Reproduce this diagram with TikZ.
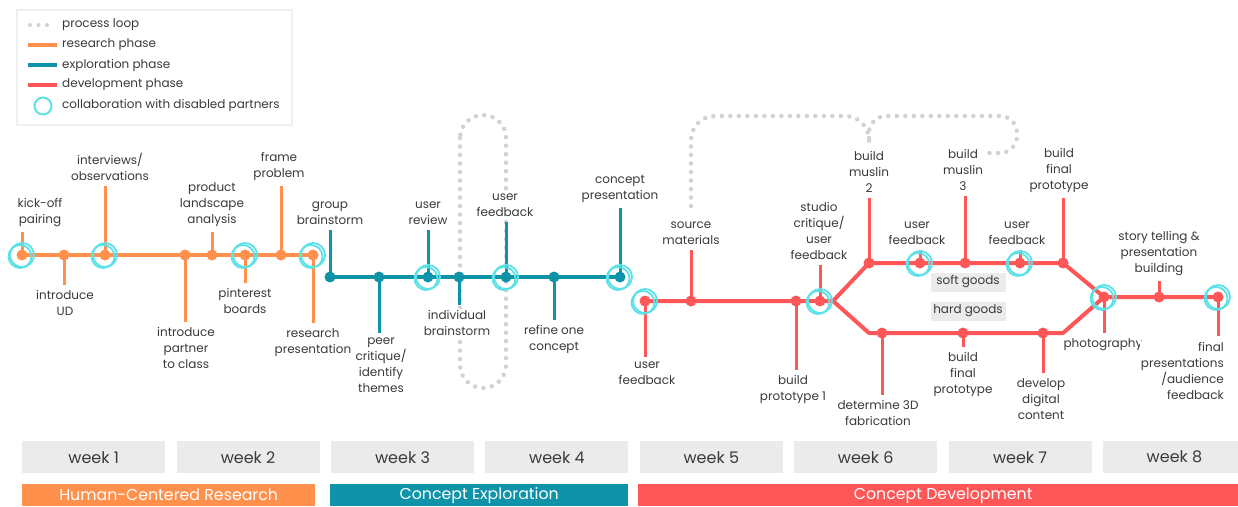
\documentclass[tikz,border=0pt]{standalone}
\usepackage{fontspec}
\setmainfont{Poppins}
\usetikzlibrary{calc}
\definecolor{cOr}{HTML}{FF914D}
\definecolor{cTe}{HTML}{0E93A8}
\definecolor{cRe}{HTML}{FF5757}
\definecolor{cRing}{HTML}{5CE1E6}
\definecolor{cTxt}{HTML}{3A3A3A}
\definecolor{cBox}{HTML}{EBEBEB}
\definecolor{cDot}{HTML}{D2D2D2}
\tikzset{
  mainline/.style={line width=4pt,line join=round},
  tickline/.style={line width=3pt},
  lbl/.style={font=\fontsize{12}{16}\selectfont,text=cTxt,align=center,inner sep=1pt,fill=white},
  loopst/.style={draw=cDot,line width=4.5pt,line cap=round,dash pattern=on 0pt off 8.5pt},
  ringst/.style={draw=cRing,line width=1.8pt},
  weekbox/.style={fill=cBox,minimum width=143pt,minimum height=32pt,inner sep=0pt,font=\fontsize{16}{18}\selectfont,text=cTxt},
  phasebar/.style={minimum height=22pt,inner sep=0pt,font=\fontsize{15.8}{18}\selectfont,text=white},
  legtxt/.style={anchor=west,font=\fontsize{12}{14}\selectfont,text=cTxt,inner sep=0pt},
  softbox/.style={fill=cBox,minimum width=75pt,minimum height=19pt,inner sep=0pt,font=\fontsize{12}{14}\selectfont,text=cTxt}
}
% station with tick upward: name, colour, x, y, tick end y, label x, text
\newcommand\stup[7]{%
  \coordinate (#1) at (#3,#4);
  \coordinate (#1t) at (#3,#5);
  \draw[tickline,#2] (#1) -- (#1t);
  \node[lbl,anchor=south] (#1l) at (#6,#5-4) {#7};}
\newcommand\stdown[7]{%
  \coordinate (#1) at (#3,#4);
  \coordinate (#1t) at (#3,#5);
  \draw[tickline,#2] (#1) -- (#1t);
  \node[lbl,anchor=north] (#1l) at (#6,#5+4) {#7};}
\newcommand\sdot[2]{\fill[#2] (#1) circle[radius=5.5pt];}
\newcommand\sring[1]{\draw[ringst] (#1) circle[radius=12pt];
  \draw[ringst] ($(#1)+(-2,1.5)$) circle[radius=11.5pt];}
\begin{document}
\begin{tikzpicture}[x=1pt,y=-1pt]
\useasboundingbox (0,0) rectangle (1238,506);
\clip (0,0) rectangle (1238,506);

% legend
\draw[draw=cBox!80,line width=2pt] (17,10) rectangle (292,125);
\coordinate (lg1a) at (30,25); \coordinate (lg1b) at (52,25);
\draw[loopst,line width=4pt] (lg1a) -- (lg1b);
\node[legtxt] (lt1) at (62,25) {process loop};
\coordinate (lg2a) at (28,45); \coordinate (lg2b) at (57,45);
\draw[cOr,line width=3.5pt] (lg2a) -- (lg2b);
\node[legtxt] (lt2) at (62,45) {research phase};
\coordinate (lg3a) at (28,65); \coordinate (lg3b) at (57,65);
\draw[cTe,line width=3.5pt] (lg3a) -- (lg3b);
\node[legtxt] (lt3) at (62,65) {exploration phase};
\coordinate (lg4a) at (28,85); \coordinate (lg4b) at (57,85);
\draw[cRe,line width=3.5pt] (lg4a) -- (lg4b);
\node[legtxt] (lt4) at (62,85) {development phase};
\coordinate (lg5) at (43,106);
\draw[ringst,line width=2pt] (lg5) circle[radius=8.5pt];
\node[legtxt] (lt5) at (62,105) {collaboration with disabled partners};

% process loops
\draw[loopst,rounded corners=23pt] (460,115) rectangle (506,388);
\coordinate (pA) at (691,206);
\coordinate (pB) at (869,148);
\coordinate (pC) at (869,138);
\coordinate (pD) at (988,153);
\draw[loopst,rounded corners=24pt] (pA) |- (pB |- 0,116) -- (pB);
\draw[loopst,rounded corners=17pt] (pC) |- (1017,116) |- (pD);

% orange stations
\stup{o1}{cOr}{22}{255}{232}{40}{kick-off\\pairing}
\stdown{o2}{cOr}{64}{255}{285}{65}{introduce\\UD}
\stup{o3}{cOr}{105}{255}{186}{110}{interviews/\\observations}
\stdown{o4}{cOr}{185}{255}{322}{186}{introduce\\partner\\to class}
\stup{o5}{cOr}{212}{255}{232}{212}{product\\landscape\\analysis}
\stdown{o6}{cOr}{245}{255}{283}{245}{pinterest\\boards}
\stup{o7}{cOr}{281}{255}{186}{279}{frame\\problem}
\stdown{o8}{cOr}{313}{255}{323}{313}{research\\presentation}

% teal stations
\stup{t1}{cTe}{330}{277}{230}{330}{group\\brainstorm}
\stdown{t2}{cTe}{379}{277}{333}{381}{peer\\critique/\\identify\\themes}
\stup{t3}{cTe}{428}{277}{230}{428}{user\\review}
\stdown{t4}{cTe}{459}{277}{305}{457}{individual\\brainstorm}
\stup{t5}{cTe}{506}{277}{222}{505}{user\\feedback}
\stdown{t6}{cTe}{554}{277}{320}{554}{refine one\\concept}
\stup{t7}{cTe}{620}{277}{208}{620}{concept\\presentation}

% red stations
\stdown{r1}{cRe}{645}{301}{357}{647}{user\\feedback}
\stup{r2}{cRe}{691}{301}{250}{691}{source\\materials}
\stdown{r3}{cRe}{796}{301}{370}{793}{build\\prototype 1}
\stup{r4}{cRe}{820}{301}{265}{819}{studio\\critique/\\user\\feedback}
\coordinate (rs) at (833,301);
\stup{r5}{cRe}{869}{263}{198}{869}{build\\muslin\\2}
\stup{r6}{cRe}{920}{263}{250}{917}{user\\feedback}
\stup{r7}{cRe}{965}{263}{196}{963}{build\\muslin\\3}
\stup{r8}{cRe}{1020}{263}{250}{1017}{user\\feedback}
\stup{r9}{cRe}{1063}{263}{198}{1059}{build\\final\\prototype}
\coordinate (rl0) at (869,333);
\stdown{r10}{cRe}{882}{333}{395}{878}{determine 3D\\fabrication}
\stdown{r11}{cRe}{963}{333}{347}{963}{build\\final\\prototype}
\stdown{r12}{cRe}{1043}{333}{373}{1041}{develop\\digital\\content}
\coordinate (rl1) at (1063,333);
\stdown{r13}{cRe}{1104}{297}{333}{1103}{photography}
\stup{r14}{cRe}{1159}{297}{281}{1159}{story telling \&\\presentation\\building}
\coordinate (r15) at (1218,297);
\coordinate (r15t) at (1218,336);
\draw[tickline,cRe] (r15) -- (r15t);
\node[lbl,anchor=north east,align=right] (r15l) at (1225,341) {final\\presentations\\/audience\\feedback};

% main lines
\draw[mainline,cOr] (o1) -- (o8);
\draw[mainline,cTe] (t1) -- (t7);
\draw[mainline,cRe] (r1) -- (rs) -- (r5) -- (r9) -- (r13) -- (r15);
\draw[mainline,cRe] (rs) -- (rl0) -- (rl1) -- (r13);

% dots
\foreach \n in {o1,o2,o3,o4,o5,o6,o7,o8} {\sdot{\n}{cOr}}
\foreach \n in {t1,t2,t3,t4,t5,t6,t7} {\sdot{\n}{cTe}}
\foreach \n in {r1,r2,r3,r4,r5,r6,r7,r8,r9,r10,r11,r12,r13,r14,r15} {\sdot{\n}{cRe}}

% rings
\foreach \n in {o1,o3,o6,o8,t3,t5,t7,r1,r4,r6,r8,r13,r15} {\sring{\n}}

% goods boxes
\node[softbox] (soft) at (968,282) {soft goods};
\node[softbox] (hard) at (968,311) {hard goods};

% weeks
\foreach \i/\x in {1/22,2/176.4,3/330.8,4/485.2,5/639.6,6/794,7/948.4,8/1102.8} {
  \node[weekbox,anchor=north west] (w\i) at (\x,441) {week \i};
}
\node[phasebar,fill=cOr,anchor=north west,minimum width=293pt] (ph1) at (22,484) {Human-Centered Research};
\node[phasebar,fill=cTe,anchor=north west,minimum width=298pt] (ph2) at (330,484) {Concept Exploration};
\node[phasebar,fill=cRe,anchor=north west,minimum width=610pt] (ph3) at (638,484) {Concept Development};
\end{tikzpicture}
\end{document}
